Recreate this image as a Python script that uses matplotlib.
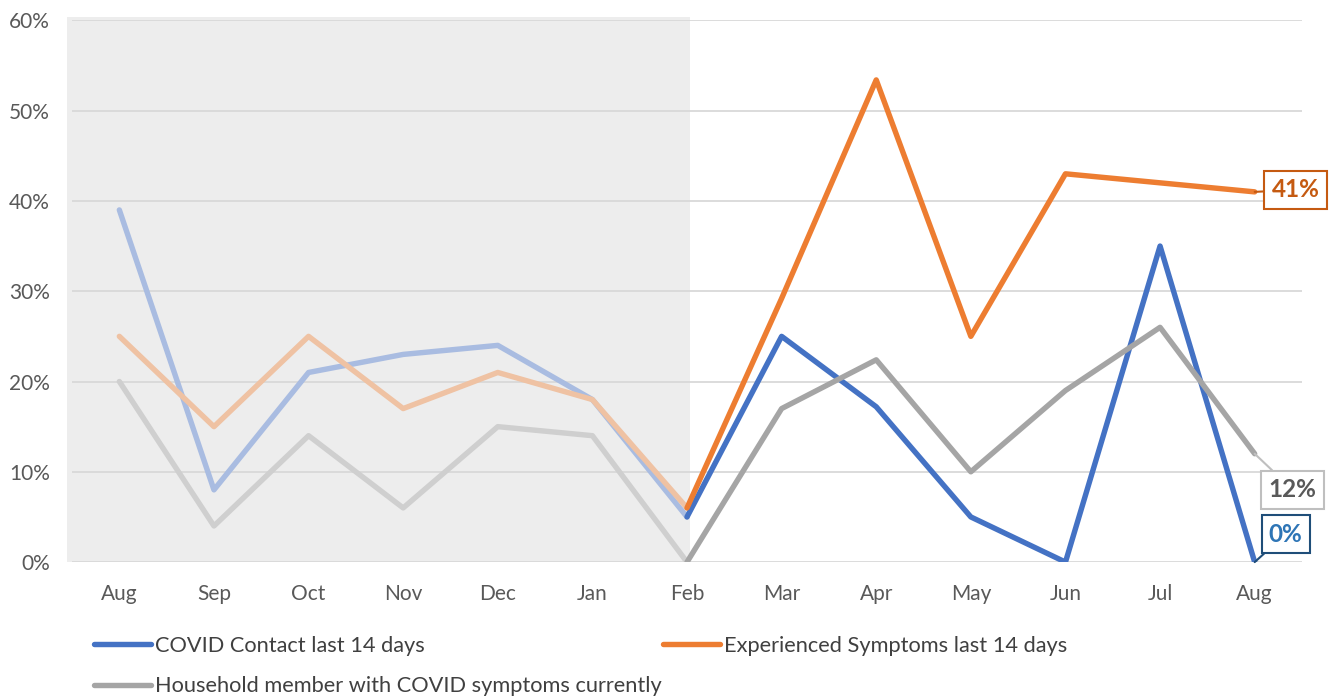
import matplotlib.pyplot as plt
from matplotlib.patches import Rectangle
from matplotlib.ticker import PercentFormatter

plt.rcParams['font.family'] = ['Lato', 'DejaVu Sans']

months = ['Aug', 'Sep', 'Oct', 'Nov', 'Dec', 'Jan', 'Feb',
          'Mar', 'Apr', 'May', 'Jun', 'Jul', 'Aug']
contact = [0.39, 0.08, 0.21, 0.23, 0.24, 0.18, 0.05,
           0.25, 0.172, 0.05, 0.0, 0.35, 0.0]
symptoms = [0.25, 0.15, 0.25, 0.17, 0.21, 0.18, 0.06,
            0.292, 0.534, 0.25, 0.43, 0.42, 0.41]
household = [0.20, 0.04, 0.14, 0.06, 0.15, 0.14, 0.0,
             0.17, 0.224, 0.10, 0.19, 0.26, 0.12]

labels = ['COVID Contact last 14 days', 'Experienced Symptoms last 14 days',
          'Household member with COVID symptoms currently']
colors = ['#4472C4', '#ED7D31', '#A5A5A5']
faded = ['#A9BCE1', '#EFC2A3', '#CFCFCF']

fig = plt.figure(figsize=(13.34, 7), dpi=100)
ax = fig.add_axes([0.054, 0.197, 0.922, 0.774])

x = list(range(len(months)))
split = 6  # Feb: earlier months are greyed out

ax.add_patch(Rectangle((-0.55, 0), 6.58, 0.6035, facecolor='#EDEDED',
                       edgecolor='none', zorder=0, clip_on=False))

handles = []
for vals, c, fc, lab in zip([contact, symptoms, household], colors, faded, labels):
    ax.plot(x[:split + 1], vals[:split + 1], color=fc, lw=3.9,
            solid_capstyle='round', zorder=3)
    h, = ax.plot(x[split:], vals[split:], color=c, lw=3.9,
                 solid_capstyle='round', zorder=4, label=lab)
    handles.append(h)

ax.set_xlim(-0.5, 12.5)
ax.set_ylim(0, 0.6)
ax.set_yticks([0, 0.1, 0.2, 0.3, 0.4, 0.5, 0.6])
ax.yaxis.set_major_formatter(PercentFormatter(1.0, decimals=0))
ax.set_xticks(x)
ax.set_xticklabels(months)
ax.grid(axis='y', color='#D9D9D9', lw=1.3, zorder=1)
ax.set_axisbelow(True)
for s in ax.spines.values():
    s.set_visible(False)
ax.tick_params(length=0, labelsize=15, labelcolor='#595959')
ax.tick_params(axis='x', pad=16)
ax.tick_params(axis='y', pad=16)

# end-of-line callouts
callouts = [
    (symptoms, '41%', '#C55A11', '#C55A11', (41, 2)),
    (household, '12%', '#595959', '#BFBFBF', (38, -36)),
    (contact, '0%', '#2E75B6', '#1F4E79', (31, 28)),
]
for vals, txt, tc, ec, off in callouts:
    ax.annotate(txt, (x[-1], vals[-1]), xytext=off, textcoords='offset pixels',
                ha='center', va='center', fontsize=17.5, fontweight='bold',
                color=tc, zorder=6,
                bbox=dict(boxstyle='square,pad=0.3', fc='white', ec=ec, lw=1.5),
                arrowprops=dict(arrowstyle='-', color=ec, lw=1.5,
                                shrinkA=0, shrinkB=0))

order = [handles[0], handles[2], handles[1]]
fig.legend(order, [h.get_label() for h in order], ncol=2,
           loc='upper left', bbox_to_anchor=(0.056, 0.12), frameon=False,
           fontsize=15.7, handlelength=2.6, handletextpad=0.2,
           columnspacing=0.05, labelspacing=0.95, labelcolor='#404040')

fig.savefig('out.png', dpi=100)
